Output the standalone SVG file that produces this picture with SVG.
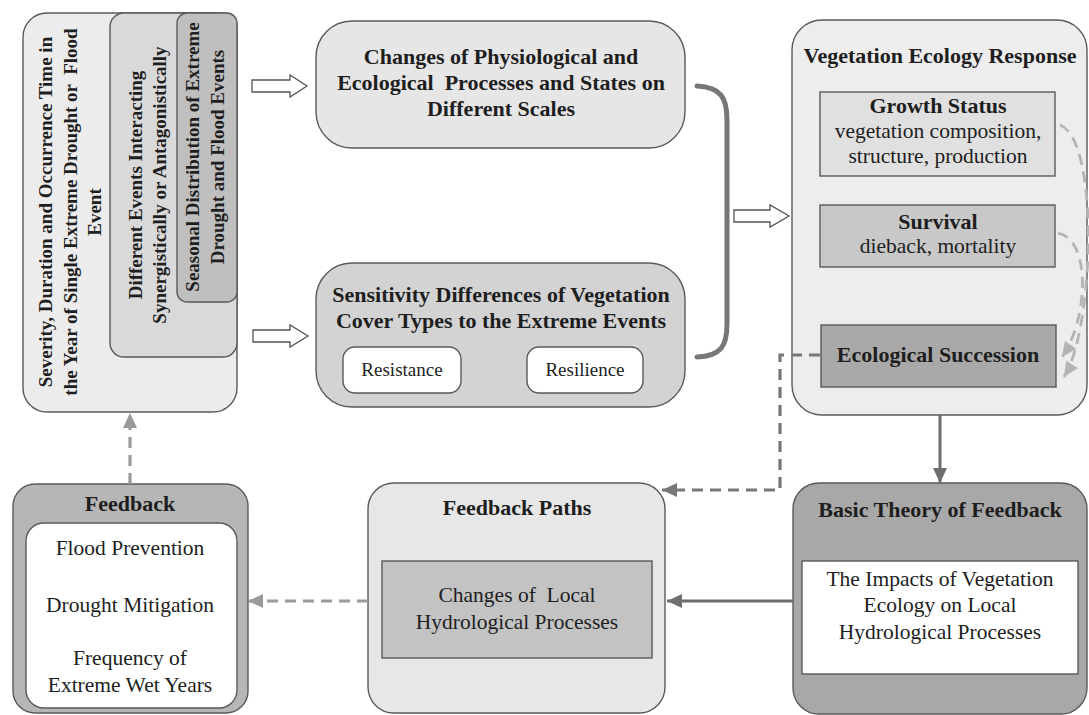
<svg xmlns="http://www.w3.org/2000/svg" width="1089" height="715" viewBox="0 0 1089 715">
<defs>
<style>
.box{stroke:#5a5a5a;stroke-width:1.4}
.b{font-family:"Liberation Serif","Times New Roman",serif;font-weight:bold;fill:#1e1e1e;text-anchor:middle;white-space:pre}
.r{font-family:"Liberation Serif","Times New Roman",serif;fill:#1e1e1e;text-anchor:middle;white-space:pre}
.t22{font-size:22px}
.t21{font-size:21.5px}
.t19{font-size:19px}
.hollow{fill:#ffffff;stroke:#555;stroke-width:1.3}
.solid{fill:none;stroke:#6e6e6e;stroke-width:3}
.dashD{fill:none;stroke:#777;stroke-width:3.2;stroke-dasharray:11 7}
.dashL{fill:none;stroke:#9a9a9a;stroke-width:3.2;stroke-dasharray:11 7}
.dashC{fill:none;stroke:#b4b4b4;stroke-width:2.8;stroke-dasharray:11 7}
</style>
<marker id="mD" markerUnits="userSpaceOnUse" markerWidth="15" markerHeight="14" refX="15" refY="7" orient="auto"><path d="M0,0 L15,7 L0,14 z" fill="#6e6e6e"/></marker>
<marker id="mDd" markerUnits="userSpaceOnUse" markerWidth="15" markerHeight="14" refX="15" refY="7" orient="auto"><path d="M0,0 L15,7 L0,14 z" fill="#777"/></marker>
<marker id="mL" markerUnits="userSpaceOnUse" markerWidth="15" markerHeight="14" refX="15" refY="7" orient="auto"><path d="M0,0 L15,7 L0,14 z" fill="#9a9a9a"/></marker>
<marker id="mC" markerUnits="userSpaceOnUse" markerWidth="15" markerHeight="14" refX="15" refY="7" orient="auto"><path d="M0,0 L15,7 L0,14 z" fill="#b4b4b4"/></marker>
</defs>
<rect width="1089" height="715" fill="#ffffff"/>

<g id="events">
<rect class="box" x="23" y="13" width="214" height="399" rx="24" fill="#ececec"/>
<rect class="box" x="110" y="13" width="127" height="344" rx="14" fill="#d9d9d9"/>
<rect class="box" x="177" y="13" width="60" height="289" rx="10" fill="#bfbfbf"/>
<g class="b t19">
<text x="52" y="212" transform="rotate(-90 52 212)">Severity, Duration and Occurrence Time in</text>
<text x="77" y="212" transform="rotate(-90 77 212)" xml:space="preserve">the Year of Single Extreme Drought or  Flood</text>
<text x="101" y="212" transform="rotate(-90 101 212)">Event</text>
<text x="142" y="185" transform="rotate(-90 142 185)">Different Events Interacting</text>
<text x="166" y="185" transform="rotate(-90 166 185)">Synergistically or Antagonistically</text>
<text x="199" y="157" transform="rotate(-90 199 157)">Seasonal Distribution of Extreme</text>
<text x="224" y="157" transform="rotate(-90 224 157)">Drought and Flood Events</text>
</g>
</g>

<g id="changes">
<rect class="box" x="316" y="21" width="369" height="127" rx="36" fill="#e6e6e6"/>
<text class="b t22" x="501" y="64">Changes of Physiological and</text>
<text class="b t22" x="501" y="90" xml:space="preserve">Ecological  Processes and States on</text>
<text class="b t22" x="501" y="116">Different Scales</text>
</g>

<g id="sensitivity">
<rect class="box" x="316" y="263" width="369" height="144" rx="36" fill="#d3d3d3"/>
<text class="b t22" x="501" y="302">Sensitivity Differences of Vegetation</text>
<text class="b t22" x="501" y="328">Cover Types to the Extreme Events</text>
<g id="resistance"><rect class="box" x="343" y="347" width="118" height="46" rx="12" fill="#ffffff"/>
<text class="r t19" x="402" y="376">Resistance</text></g>
<g id="resilience"><rect class="box" x="527" y="347" width="116" height="46" rx="12" fill="#ffffff"/>
<text class="r t19" x="585" y="376">Resilience</text></g>
</g>

<g id="vegetation">
<rect class="box" x="792" y="20" width="295" height="395" rx="30" fill="#ededed"/>
<text class="b t22" x="940" y="63">Vegetation Ecology Response</text>
<g id="growth"><rect class="box" x="820" y="92" width="235" height="84" fill="#e0e0e0"/>
<text class="b t22" x="938" y="113">Growth Status</text>
<text class="r t21" x="938" y="138">vegetation composition,</text>
<text class="r t21" x="938" y="163">structure, production</text></g>
<g id="survival"><rect class="box" x="820" y="205" width="235" height="62" fill="#c8c8c8"/>
<text class="b t22" x="938" y="229">Survival</text>
<text class="r t21" x="938" y="253">dieback, mortality</text></g>
<g id="succession"><rect class="box" x="821" y="325" width="235" height="62" fill="#a9a9a9"/>
<text class="b t22" x="938" y="362">Ecological Succession</text></g>
</g>

<g id="basic-theory">
<rect class="box" x="793" y="483" width="294" height="231" rx="26" fill="#a8a8a8"/>
<text class="b t22" x="940" y="517">Basic Theory of Feedback</text>
<rect class="box" x="802" y="561" width="276" height="113" fill="#ffffff"/>
<text class="r t21" x="940" y="586">The Impacts of Vegetation</text>
<text class="r t21" x="940" y="612">Ecology on Local</text>
<text class="r t21" x="940" y="639">Hydrological Processes</text>
</g>

<g id="feedback-paths">
<rect class="box" x="368" y="483" width="297" height="230" rx="26" fill="#e7e7e7"/>
<text class="b t22" x="517" y="515">Feedback Paths</text>
<rect class="box" x="382" y="561" width="270" height="97" fill="#c3c3c3"/>
<text class="r t21" x="517" y="602" xml:space="preserve">Changes of  Local</text>
<text class="r t21" x="517" y="629">Hydrological Processes</text>
</g>

<g id="feedback">
<rect class="box" x="13" y="484" width="235" height="229" rx="22" fill="#b6b6b6"/>
<text class="b t22" x="130" y="511">Feedback</text>
<rect class="box" x="26" y="523" width="211" height="185" rx="18" fill="#ffffff"/>
<text class="r t21" x="130" y="555">Flood Prevention</text>
<text class="r t21" x="130" y="612">Drought Mitigation</text>
<text class="r t21" x="130" y="665">Frequency of</text>
<text class="r t21" x="130" y="692">Extreme Wet Years</text>
</g>

<g id="connectors">
<polygon class="hollow" points="252,80 290,80 290,75 307,86 290,97 290,92 252,92"/>
<polygon class="hollow" points="253,330 290,330 290,325 308,336 290,347 290,342 253,342"/>
<polygon class="hollow" points="734,210 770,210 770,205 789,216 770,227 770,222 734,222"/>
<path d="M697,86 C721,87 727,98 727,120 L727,324 C727,346 721,356 697,357" fill="none" stroke="#777" stroke-width="5" stroke-linecap="round"/>
<path class="dashC" d="M1060,125 C1100,140 1094,330 1064,377" marker-end="url(#mC)"/>
<path class="dashC" d="M1058,233 C1092,240 1088,320 1062,357" marker-end="url(#mC)"/>
<path class="dashD" d="M820,355 L780,355 L780,490 L662,490" marker-end="url(#mDd)"/>
<path class="solid" d="M940,415 L940,483" marker-end="url(#mD)"/>
<path class="solid" d="M793,601 L667,601" marker-end="url(#mD)"/>
<path class="dashL" d="M368,601 L248,601" marker-end="url(#mL)"/>
<path class="dashL" d="M130,484 L130,413" marker-end="url(#mL)"/>
</g>
</svg>
